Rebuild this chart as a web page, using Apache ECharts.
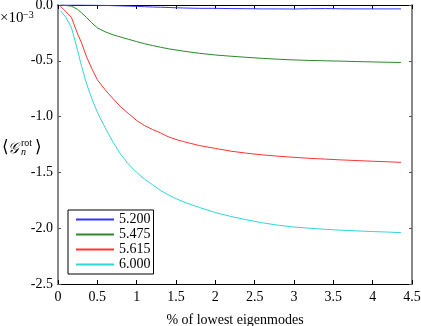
<!DOCTYPE html>
<html>
<head>
<meta charset="utf-8">
<script src="https://cdn.jsdelivr.net/npm/echarts@6/dist/echarts.min.js"></script>
<style>
html,body{margin:0;padding:0;background:#fff;}
#c{width:421px;height:326px;}
</style>
</head>
<body>
<div id="c"></div>
<script>
// ---- data (values in units of 1e-3) ----
var xs = [0.03,0.1,0.17,0.25,0.3,0.36,0.43,0.5,0.6,0.7,0.8,0.9,1.0,1.1,1.2,1.3,1.4,1.5,1.6,1.8,2.0,2.2,2.4,2.6,2.8,3.0,3.2,3.4,3.6,3.8,4.0,4.2,4.36];
var labels = ["5.200","5.475","5.615","6.000"];
var s5200 = [0,0,0,0,0,-0.001,-0.001,-0.002,-0.004,-0.006,-0.008,-0.01,-0.012,-0.015,-0.018,-0.02,-0.022,-0.025,-0.027,-0.03,-0.03,-0.032,-0.033,-0.035,-0.035,-0.036,-0.033,-0.032,-0.034,-0.035,-0.035,-0.035,-0.035];
var s5475 = [0,-0.005,-0.01,-0.04,-0.07,-0.11,-0.16,-0.205,-0.24,-0.267,-0.288,-0.308,-0.328,-0.347,-0.363,-0.378,-0.392,-0.403,-0.414,-0.433,-0.448,-0.459,-0.469,-0.478,-0.486,-0.492,-0.497,-0.5,-0.503,-0.507,-0.51,-0.513,-0.515];
var s5615 = [-0.01,-0.06,-0.11,-0.26,-0.34,-0.46,-0.57,-0.67,-0.76,-0.84,-0.915,-0.975,-1.035,-1.08,-1.115,-1.145,-1.18,-1.205,-1.225,-1.26,-1.285,-1.31,-1.328,-1.343,-1.355,-1.365,-1.374,-1.381,-1.388,-1.394,-1.4,-1.405,-1.41];
var s6000 = [-0.05,-0.11,-0.2,-0.41,-0.55,-0.7,-0.84,-0.96,-1.1,-1.23,-1.34,-1.43,-1.5,-1.56,-1.61,-1.66,-1.7,-1.735,-1.765,-1.815,-1.86,-1.895,-1.925,-1.952,-1.973,-1.99,-2.0,-2.01,-2.018,-2.024,-2.03,-2.035,-2.04];
var colors = ["#3333ff","#2a8a2a","#ff3333","#33d6d6"];
var xLabel = "% of lowest eigenmodes";

function pairs(ys){ return xs.map(function(x,i){ return [x, ys[i]]; }); }
var allSeries = [s5200, s5475, s5615, s6000];

var FONT = "'Liberation Serif','Times New Roman',serif";
var chart = echarts.init(document.getElementById('c'), null, {renderer:'canvas'});
var option = {
  animation:false,
  backgroundColor:'#fff',
  grid:{left:58, right:9, top:5, bottom:42, containLabel:false, outerBoundsMode:'none'},
  xAxis:[{
    type:'value', min:0, max:4.5, interval:0.5, position:'bottom',
    axisLine:{show:true, onZero:false, lineStyle:{color:'#000', width:1}},
    axisTick:{show:true, inside:true, length:4, lineStyle:{color:'#000'}},
    axisLabel:{show:true, margin:6, color:'#000', fontFamily:FONT, fontSize:14, formatter:function(v){return String(v);}},
    splitLine:{show:false},
    name:xLabel, nameLocation:'middle', nameGap:29,
    nameTextStyle:{color:'#000', fontFamily:FONT, fontSize:14}
  },{
    type:'value', min:0, max:4.5, interval:0.5, position:'top',
    axisLine:{show:true, onZero:false, lineStyle:{color:'#000', width:1}},
    axisTick:{show:true, inside:true, length:4, lineStyle:{color:'#000'}},
    axisLabel:{show:false}, splitLine:{show:false}
  }],
  yAxis:[{
    type:'value', min:-2.5, max:0, interval:0.5, position:'left',
    axisLine:{show:true, onZero:false, lineStyle:{color:'#888', width:2}},
    axisTick:{show:true, inside:true, length:3, lineStyle:{color:'#555'}},
    axisLabel:{show:true, margin:5, color:'#000', fontFamily:FONT, fontSize:14, formatter:function(v){return v.toFixed(1);}},
    splitLine:{show:false}
  },{
    type:'value', min:-2.5, max:0, interval:0.5, position:'right',
    axisLine:{show:true, onZero:false, lineStyle:{color:'#888', width:2}},
    axisTick:{show:true, inside:true, length:3, lineStyle:{color:'#555'}},
    axisLabel:{show:false}, splitLine:{show:false}
  }],
  legend:{
    left:68, top:210, orient:'vertical',
    data:labels,
    icon:'rect', itemWidth:38, itemHeight:2, itemGap:0,
    itemStyle:{borderWidth:0},
    backgroundColor:'#fff', borderColor:'#000', borderWidth:1, borderRadius:0,
    padding:[2,3,2,8],
    textStyle:{color:'#000', fontFamily:FONT, fontSize:14, lineHeight:15}
  },
  series: allSeries.map(function(s,i){
    return {
      name:labels[i], type:'line', data:pairs(s), showSymbol:false, symbol:'none',
      lineStyle:{color:colors[i], width:1}, itemStyle:{color:colors[i]},
      clip:true
    };
  }),
  graphic:[
    {type:'text', x:0, y:26, style:{text:'×10', font:'15px '+FONT, fill:'#000', verticalAlign:'bottom'}},
    {type:'text', x:23, y:20, style:{text:'−3', font:'10px '+FONT, fill:'#000', verticalAlign:'bottom'}},
    {type:'text', x:2, y:148, style:{text:'⟨', font:'17px '+FONT, fill:'#000', verticalAlign:'middle'}},
    {type:'text', x:8, y:149, style:{text:'𝒢', font:'italic 15px '+FONT, fill:'#000', verticalAlign:'middle'}},
    {type:'text', x:21, y:143, style:{text:'rot', font:'10px '+FONT, fill:'#000', verticalAlign:'middle'}},
    {type:'text', x:21, y:152, style:{text:'n', font:'italic 10px '+FONT, fill:'#000', verticalAlign:'middle'}},
    {type:'text', x:35, y:148, style:{text:'⟩', font:'17px '+FONT, fill:'#000', verticalAlign:'middle'}}
  ]
};
chart.setOption(option);
</script>
</body>
</html>
